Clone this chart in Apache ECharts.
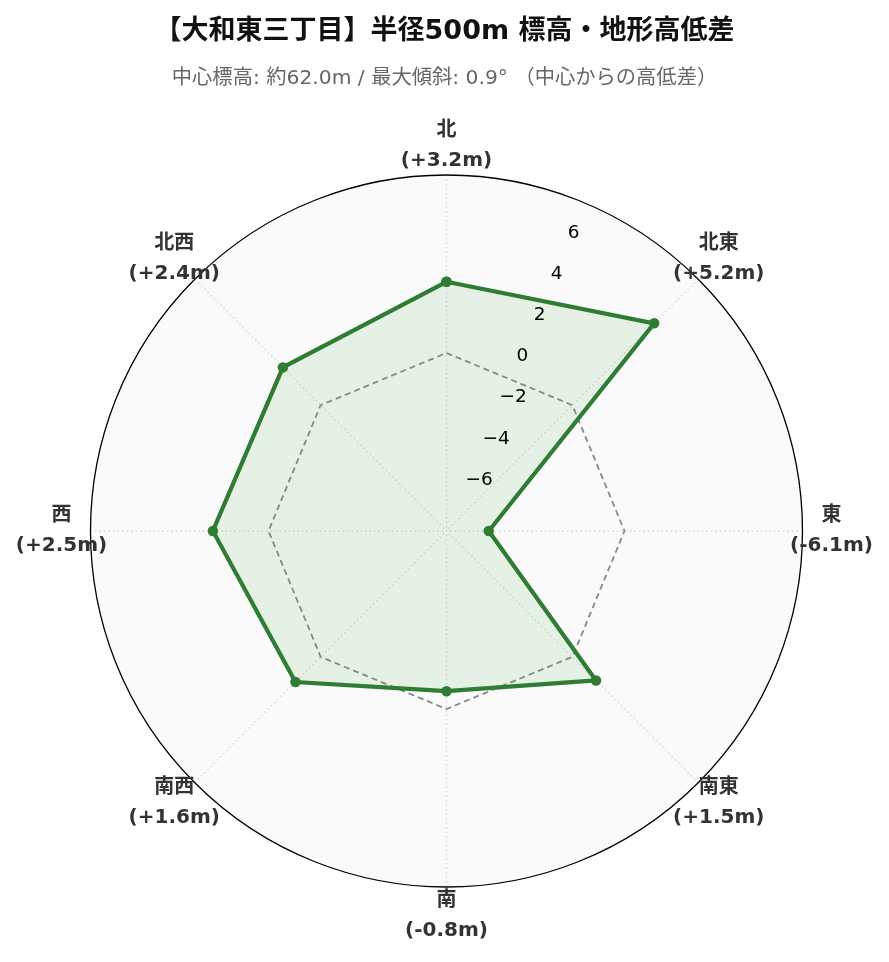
<!DOCTYPE html>
<html><head><meta charset="utf-8">
<script src="https://cdn.jsdelivr.net/npm/echarts@6/dist/echarts.min.js"></script>
<style>html,body{margin:0;padding:0;background:#fff}#c{width:889px;height:962px}</style>
</head><body><div id="c"></div>
<script>
// ---- data ----
const directions = ['北', '北東', '東', '南東', '南', '南西', '西', '北西'];
const elevationDiff = [3.2, 5.2, -6.1, 1.5, -0.8, 1.6, 2.5, 2.4];
const zeroLine = [0, 0, 0, 0, 0, 0, 0, 0];
const radialTicks = [-6, -4, -2, 0, 2, 4, 6];
const radiusMin = -8, radiusMax = 8, radiusStep = 2;
const tickLabelDirection = 0.5; // radial labels sit halfway between 北 and 北東
const titleText = '【大和東三丁目】半径500m 標高・地形高低差';
const subText = '中心標高: 約62.0m / 最大傾斜: 0.9° （中心からの高低差）';

const LATIN_CJK = '"DejaVu Sans", "Noto Sans CJK JP", sans-serif';
const fmtDiff = v => (v > 0 ? '+' : '') + v.toFixed(1) + 'm';
const fmtTick = v => (v < 0 ? '\u2212' + Math.abs(v) : String(v));
// [radius, direction index], closed back to the first direction
const closed = arr => arr.map((v, i) => [v, i]).concat([[arr[0], arr.length]]);

// grid circle colours: hide the circle at max (drawn solid by angle axis line)
const nCircles = (radiusMax - radiusMin) / radiusStep + 1;
const circleColors = [];
for (let i = 0; i < nCircles; i++) circleColors.push(i === nCircles - 1 ? 'rgba(0,0,0,0)' : '#d6d6d6');

const GRID_LINE = {color: '#d6d6d6', width: 1.3, type: [1.5, 3]};

const chart = echarts.init(document.getElementById('c'), null, {renderer: 'canvas'});
chart.setOption({
  animation: false,
  backgroundColor: '#ffffff',
  title: [
    {text: titleText, left: 'center', top: 11,
     textStyle: {fontSize: 27, fontWeight: 'bold', color: '#111', fontFamily: LATIN_CJK, lineHeight: 32}},
    {text: subText, left: 'center', top: 62,
     textStyle: {fontSize: 20.3, fontWeight: 'normal', color: '#666', fontFamily: LATIN_CJK, lineHeight: 24}}
  ],
  polar: {center: [446.5, 531], radius: 356},
  angleAxis: {
    type: 'value', min: 0, max: directions.length, interval: 1,
    startAngle: 90, clockwise: true,
    axisLine: {show: true, lineStyle: {color: '#000', width: 1.3}},
    axisTick: {show: false}, axisLabel: {show: false},
    splitLine: {show: true, lineStyle: GRID_LINE}
  },
  radiusAxis: {
    min: radiusMin, max: radiusMax, interval: radiusStep,
    axisLine: {show: false}, axisTick: {show: false}, axisLabel: {show: false},
    splitLine: {show: true, lineStyle: Object.assign({}, GRID_LINE, {color: circleColors})},
    splitArea: {show: true, areaStyle: {color: ['#fafafa']}}
  },
  series: [
    {
      name: 'zero', type: 'line', coordinateSystem: 'polar', data: closed(zeroLine),
      symbol: 'none', silent: true, z: 2,
      lineStyle: {color: '#888', width: 1.8, type: [6, 4]}
    },
    {
      name: '高低差', type: 'line', coordinateSystem: 'polar', data: closed(elevationDiff),
      symbol: 'circle', symbolSize: 10.5, silent: true, z: 3,
      itemStyle: {color: '#2e7d32'},
      lineStyle: {color: '#2e7d32', width: 4.2, join: 'miter'},
      areaStyle: {color: 'rgba(76,175,80,0.17)', origin: 'start'}
    },
    {
      name: 'tickLabels', type: 'custom', coordinateSystem: 'polar', silent: true, z: 6,
      data: radialTicks.map(v => [v, tickLabelDirection]),
      renderItem: function (params, api) {
        const p = api.coord([api.value(0), api.value(1)]);
        return {type: 'text', style: {x: p[0] + 2, y: p[1] - 10, text: fmtTick(api.value(0)),
          align: 'left', verticalAlign: 'middle', fontSize: 18.5, fontFamily: '"DejaVu Sans"', fill: '#000'}};
      }
    },
    {
      name: 'dirLabels', type: 'custom', coordinateSystem: 'polar', silent: true, z: 6,
      data: directions.map((d, i) => [radiusMax, i]),
      renderItem: function (params, api) {
        const cs = params.coordSys;
        const p = api.coord([radiusMax, api.value(1)]);
        const dx = p[0] - cs.cx, dy = p[1] - cs.cy;
        const len = Math.hypot(dx, dy);
        const R = len + 29;
        const i = params.dataIndex;
        return {type: 'text', style: {x: cs.cx + dx / len * R, y: cs.cy + dy / len * R,
          text: directions[i] + '\n(' + fmtDiff(elevationDiff[i]) + ')',
          align: 'center', verticalAlign: 'middle', fontSize: 20, fontWeight: 'bold',
          fontFamily: LATIN_CJK, lineHeight: 30, fill: '#333'}};
      }
    }
  ]
});
</script></body></html>
